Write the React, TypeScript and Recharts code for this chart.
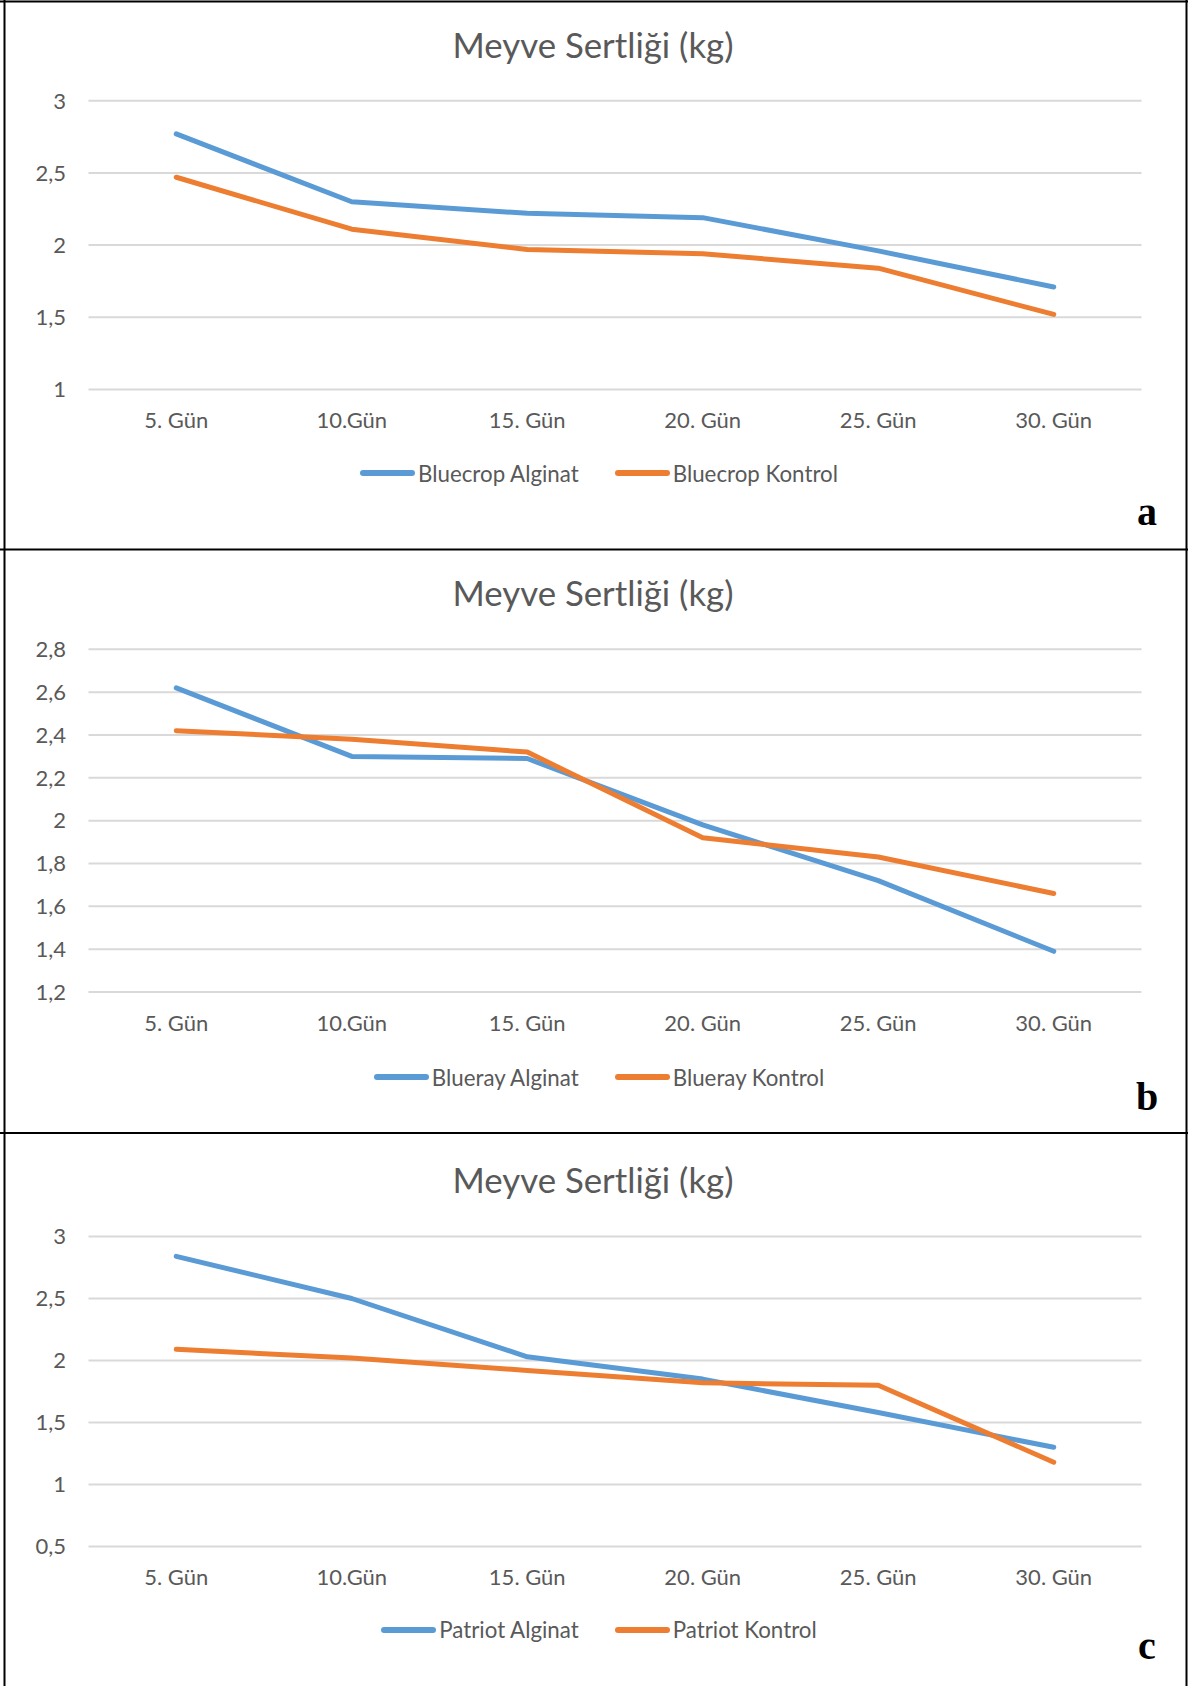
import React from 'react';
import { LineChart, Line, XAxis, YAxis, CartesianGrid, Legend } from 'recharts';

// ---- data ----
const days = ['5. Gün', '10.Gün', '15. Gün', '20. Gün', '25. Gün', '30. Gün'];

const bluecropAlginat = [2.77, 2.3, 2.22, 2.19, 1.96, 1.71];
const bluecropKontrol = [2.47, 2.11, 1.97, 1.94, 1.84, 1.52];
const bluerayAlginat = [2.62, 2.3, 2.29, 1.98, 1.72, 1.39];
const bluerayKontrol = [2.42, 2.38, 2.32, 1.92, 1.83, 1.66];
const patriotAlginat = [2.84, 2.5, 2.03, 1.85, 1.58, 1.3];
const patriotKontrol = [2.09, 2.02, 1.92, 1.82, 1.8, 1.18];

const ticksA = [1, 1.5, 2, 2.5, 3];
const ticksB = [1.2, 1.4, 1.6, 1.8, 2, 2.2, 2.4, 2.6, 2.8];
const ticksC = [0.5, 1, 1.5, 2, 2.5, 3];

const chartTitle = 'Meyve Sertliği (kg)';

// ---- style ----
const BLUE = '#5B9BD5';
const ORANGE = '#ED7D31';
const TEXT = '#595959';
const GRID = '#D9D9D9';
const FONT = 'Lato, "Open Sans", sans-serif';
const W = 1188;
const PLOT_LEFT = 88.5;
const PLOT_RIGHT = 1141.5;
const XH = 40;
const TICK_FS = 22;

const fmt = (v: number) => String(v).replace('.', ',');

const renderLegend = (props: any) => {
  const payload = props.payload || [];
  return (
    <div
      style={{
        display: 'flex',
        justifyContent: 'center',
        alignItems: 'center',
        height: 30,
        fontFamily: FONT,
        fontSize: 22.3,
        color: TEXT,
      }}
    >
      {payload.map((p: any, i: number) => (
        <div key={i} style={{ display: 'flex', alignItems: 'center', marginLeft: i ? 36 : 0 }}>
          <svg width={55} height={8} style={{ display: 'block' }}>
            <line x1={3} y1={4} x2={52} y2={4} stroke={p.color} strokeWidth={6} strokeLinecap="round" />
          </svg>
          <span style={{ marginLeft: 3, whiteSpace: 'nowrap' }}>{p.value}</span>
        </div>
      ))}
    </div>
  );
};

type PanelProps = {
  top: number;
  height: number;
  gridTop: number;
  gridBottom: number;
  titleY: number;
  legendY: number;
  letterY: number;
  letter: string;
  names: [string, string];
  s1: number[];
  s2: number[];
  ticks: number[];
};

function Panel(p: PanelProps) {
  const data = days.map((d, i) => ({ day: d, s1: p.s1[i], s2: p.s2[i] }));
  const pad = (PLOT_RIGHT - PLOT_LEFT) / 12;
  return (
    <div style={{ position: 'absolute', left: 0, top: p.top, width: W, height: p.height }}>
      <LineChart
        width={W}
        height={p.height}
        data={data}
        margin={{
          top: p.gridTop - p.top,
          right: W - PLOT_RIGHT,
          left: 0,
          bottom: p.height - (p.gridBottom - p.top) - XH,
        }}
      >
        <CartesianGrid horizontal vertical={false} stroke={GRID} strokeWidth={2} />
        <XAxis
          dataKey="day"
          height={XH}
          axisLine={false}
          tickLine={false}
          tickSize={0}
          tickMargin={23}
          interval={0}
          padding={{ left: pad, right: pad }}
          tick={{ fill: TEXT, fontSize: TICK_FS, fontFamily: FONT }}
        />
        <YAxis
          width={PLOT_LEFT}
          type="number"
          domain={[p.ticks[0], p.ticks[p.ticks.length - 1]]}
          ticks={p.ticks}
          interval={0}
          allowDataOverflow
          axisLine={false}
          tickLine={false}
          tickSize={0}
          tickMargin={22.5}
          tickFormatter={fmt}
          tick={{ fill: TEXT, fontSize: TICK_FS, fontFamily: FONT }}
        />
        <Line
          type="linear"
          dataKey="s1"
          name={p.names[0]}
          stroke={BLUE}
          strokeWidth={5}
          strokeLinecap="round"
          strokeLinejoin="round"
          dot={false}
          activeDot={false}
          isAnimationActive={false}
        />
        <Line
          type="linear"
          dataKey="s2"
          name={p.names[1]}
          stroke={ORANGE}
          strokeWidth={5}
          strokeLinecap="round"
          strokeLinejoin="round"
          dot={false}
          activeDot={false}
          isAnimationActive={false}
        />
        <Legend
          verticalAlign="middle"
          layout="horizontal"
          content={renderLegend}
          wrapperStyle={{ top: p.legendY - p.top - 15, left: 5, width: W, height: 30 }}
        />
      </LineChart>
      <svg
        width={W}
        height={p.height}
        style={{ position: 'absolute', left: 0, top: 0, pointerEvents: 'none' }}
      >
        <text x={593} y={p.titleY - p.top} textAnchor="middle" fontFamily={FONT} fontSize={34.8} fill={TEXT}>
          {chartTitle}
        </text>
        <text
          x={1147}
          y={p.letterY - p.top}
          textAnchor="middle"
          fontFamily='"Liberation Serif", "Times New Roman", serif'
          fontSize={40}
          fontWeight={700}
          fill="#000"
        >
          {p.letter}
        </text>
      </svg>
    </div>
  );
}

export default function App() {
  return (
    <div style={{ position: 'absolute', left: 0, top: 0, width: W, height: 1686, background: '#fff', overflow: 'hidden' }}>
      <Panel
        top={0}
        height={549}
        gridTop={100.7}
        gridBottom={389.5}
        titleY={57.7}
        legendY={473.3}
        letterY={525}
        letter="a"
        names={['Bluecrop Alginat', 'Bluecrop Kontrol']}
        s1={bluecropAlginat}
        s2={bluecropKontrol}
        ticks={ticksA}
      />
      <Panel
        top={549}
        height={584}
        gridTop={649.3}
        gridBottom={992}
        titleY={605.7}
        legendY={1077}
        letterY={1110}
        letter="b"
        names={['Blueray Alginat', 'Blueray Kontrol']}
        s1={bluerayAlginat}
        s2={bluerayKontrol}
        ticks={ticksB}
      />
      <Panel
        top={1133}
        height={553}
        gridTop={1236.5}
        gridBottom={1546.5}
        titleY={1192.7}
        legendY={1629.5}
        letterY={1658.5}
        letter="c"
        names={['Patriot Alginat', 'Patriot Kontrol']}
        s1={patriotAlginat}
        s2={patriotKontrol}
        ticks={ticksC}
      />
      <svg width={W} height={1686} style={{ position: 'absolute', left: 0, top: 0, pointerEvents: 'none' }}>
        <line x1={4.5} y1={0} x2={4.5} y2={1686} stroke="#000" strokeWidth={2} />
        <line x1={1186.5} y1={0} x2={1186.5} y2={1686} stroke="#000" strokeWidth={2} />
        <line x1={0} y1={1.5} x2={1188} y2={1.5} stroke="#000" strokeWidth={2} />
        <line x1={0} y1={549.5} x2={1188} y2={549.5} stroke="#000" strokeWidth={2} />
        <line x1={0} y1={1133} x2={1188} y2={1133} stroke="#000" strokeWidth={2} />
      </svg>
    </div>
  );
}
